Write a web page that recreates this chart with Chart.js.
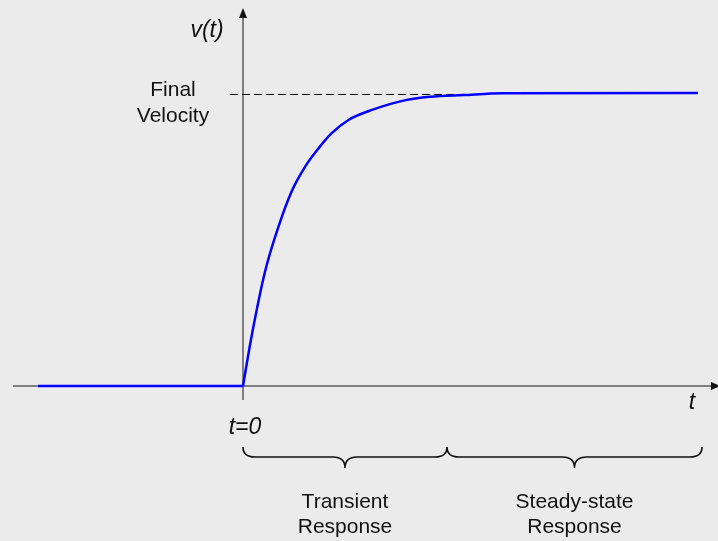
<!DOCTYPE html>
<html>
<head>
<meta charset="utf-8">
<script src="https://cdn.jsdelivr.net/npm/chart.js@4"></script>
<style>
  html, body { margin: 0; padding: 0; background: #ebebeb; }
  #wrap { width: 718px; height: 541px; position: relative; }
</style>
</head>
<body>
<div id="wrap"><canvas id="grafico"></canvas></div>
<script>
// trecho parado antes de t=0
const tempoAntes      = [-4.1, 0];
const velocidadeAntes = [0, 0];

// tempo (t) e velocidade normalizada v(t) depois de t=0
const tempo      = [0, 0.17, 0.44, 0.71, 0.97, 1.24, 1.51, 1.77, 2.11, 2.61, 3.21, 3.74, 4.41, 5.2, 9.1];
const velocidade = [0, 0.168, 0.39, 0.544, 0.663, 0.748, 0.811, 0.862, 0.908, 0.944, 0.974, 0.987, 0.993, 0.999, 1.0];

// linha tracejada da velocidade final
const finalT = [-0.26, 4.8];
const finalV = [0.995, 0.995];

// chaves (inicio, divisao, fim) e textos
const chaves = [0, 4.08, 9.18];
const textos = {
    vt: "v(t)",
    final: ["Final", "Velocity"],
    t: "t",
    t0: "t=0",
    transiente: ["Transient", "Response"],
    permanente: ["Steady-state", "Response"]
};

const FONTE = '"Liberation Sans", Arial, sans-serif';

function chave(ctx, x1, x2, yTop) {
    const yMid = yTop + 10, yTip = yTop + 21, r = 12;
    const xm = (x1 + x2) / 2;
    ctx.beginPath();
    ctx.moveTo(x1, yTop);
    ctx.quadraticCurveTo(x1, yMid, x1 + r, yMid);
    ctx.lineTo(xm - r, yMid);
    ctx.quadraticCurveTo(xm, yMid, xm, yTip);
    ctx.quadraticCurveTo(xm, yMid, xm + r, yMid);
    ctx.lineTo(x2 - r, yMid);
    ctx.quadraticCurveTo(x2, yMid, x2, yTop);
    ctx.stroke();
}

const desenhoExtra = {
    id: 'desenhoExtra',
    beforeDatasetsDraw(chart) {
        const ctx = chart.ctx;
        const sx = chart.scales.x, sy = chart.scales.y;
        const x0 = sx.getPixelForValue(0), y0 = sy.getPixelForValue(0);
        ctx.save();
        ctx.strokeStyle = '#5a5a5a';
        ctx.fillStyle = '#111';
        ctx.lineWidth = 1.5;
        // eixo t
        ctx.beginPath();
        ctx.moveTo(sx.getPixelForValue(-4.6), y0);
        ctx.lineTo(chart.width, y0);
        ctx.stroke();
        ctx.beginPath();
        ctx.moveTo(chart.width + 2, y0);
        ctx.lineTo(chart.width - 7, y0 - 4);
        ctx.lineTo(chart.width - 7, y0 + 4);
        ctx.closePath();
        ctx.fill();
        // eixo v
        ctx.beginPath();
        ctx.moveTo(x0, sy.getPixelForValue(-0.048));
        ctx.lineTo(x0, 14);
        ctx.stroke();
        ctx.beginPath();
        ctx.moveTo(x0, 8);
        ctx.lineTo(x0 - 4, 18);
        ctx.lineTo(x0 + 4, 18);
        ctx.closePath();
        ctx.fill();
        ctx.restore();
    },
    afterDatasetsDraw(chart) {
        const ctx = chart.ctx;
        const sx = chart.scales.x;
        const x0 = sx.getPixelForValue(0);
        ctx.save();
        ctx.fillStyle = '#111';
        ctx.textAlign = 'center';
        ctx.textBaseline = 'middle';

        ctx.font = 'italic 23px ' + FONTE;
        ctx.fillText(textos.vt, 207, 31);
        ctx.fillText(textos.t, 692, 403);
        ctx.fillText(textos.t0, x0 + 2, 428);

        ctx.font = '21px ' + FONTE;
        ctx.fillText(textos.final[0], 173, 90);
        ctx.fillText(textos.final[1], 173, 116);

        const c = chaves.map(v => sx.getPixelForValue(v));
        ctx.strokeStyle = '#111';
        ctx.lineWidth = 1.6;
        chave(ctx, c[0], c[1], 447);
        chave(ctx, c[1], c[2], 447);

        ctx.fillText(textos.transiente[0], (c[0] + c[1]) / 2, 502);
        ctx.fillText(textos.transiente[1], (c[0] + c[1]) / 2, 527);
        ctx.fillText(textos.permanente[0], (c[1] + c[2]) / 2, 502);
        ctx.fillText(textos.permanente[1], (c[1] + c[2]) / 2, 527);
        ctx.restore();
    }
};

const linhaAzul = { borderColor: '#0000ff', borderWidth: 2.5, pointRadius: 0, fill: false };

const __grafico = new Chart(document.getElementById('grafico'), {
    type: 'line',
    data: {
        datasets: [
            {
                ...linhaAzul,
                label: 'v(t) antes',
                data: tempoAntes.map((t, i) => ({ x: t, y: velocidadeAntes[i] }))
            },
            {
                ...linhaAzul,
                label: 'v(t)',
                data: tempo.map((t, i) => ({ x: t, y: velocidade[i] })),
                cubicInterpolationMode: 'monotone'
            },
            {
                label: 'Final Velocity',
                data: finalT.map((t, i) => ({ x: t, y: finalV[i] })),
                borderColor: '#000',
                borderWidth: 1,
                borderDash: [8, 4],
                pointRadius: 0,
                fill: false
            }
        ]
    },
    options: {
        responsive: true,
        maintainAspectRatio: false,
        animation: false,
        layout: { padding: 0 },
        plugins: { legend: { display: false }, tooltip: { enabled: false } },
        scales: {
            x: { type: 'linear', min: -4.86, max: 9.5, display: false },
            y: { type: 'linear', min: -0.529, max: 1.3174, display: false }
        }
    },
    plugins: [desenhoExtra]
});
</script>
</body>
</html>
